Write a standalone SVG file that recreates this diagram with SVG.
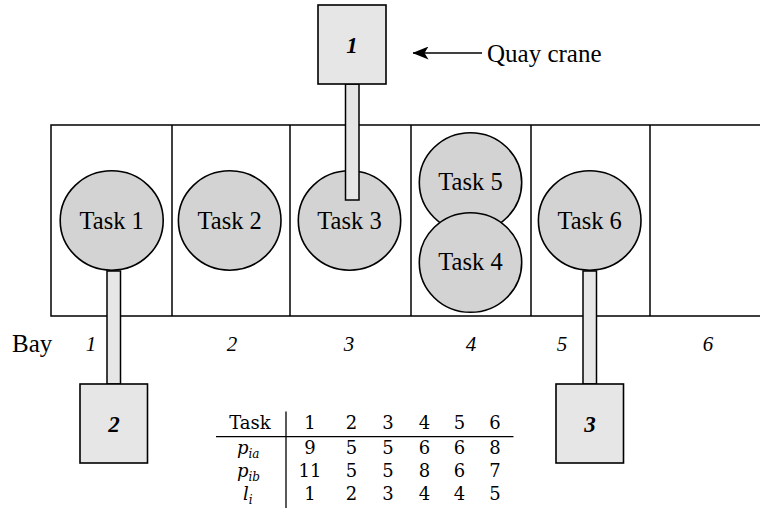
<svg xmlns="http://www.w3.org/2000/svg" width="760" height="508" viewBox="0 0 760 508">
  <defs>
    <style>
      .bay-line { stroke: #000; stroke-width: 1.5; fill: none; }
      .task { fill: #d3d3d3; stroke: #000; stroke-width: 1.6; }
      .serif { font-family: 'Liberation Serif', serif; }
      .task-label { font-family: 'Liberation Serif', serif; font-size: 24.5px; fill: #000; text-anchor: middle; }
      .crane { fill: #e6e6e6; stroke: #000; stroke-width: 1.6; }
      .crane-label { font-family: 'Liberation Serif', serif; font-size: 23px; font-style: italic; font-weight: bold; fill: #000; text-anchor: middle; }
      .arm { fill: #e6e6e6; stroke: #000; stroke-width: 1.5; }
      .plain { font-family: 'Liberation Serif', serif; font-size: 25px; fill: #000; }
      .bay-no { font-family: 'Liberation Serif', serif; font-size: 21px; font-style: italic; fill: #000; text-anchor: middle; }
      .tab { font-family: 'DejaVu Serif', serif; font-size: 18px; fill: #000; text-anchor: middle; }
      .tab-i { font-family: 'DejaVu Serif', serif; font-size: 18px; font-style: italic; fill: #000; }
      .sub { font-size: 12px; }
      .rule { stroke: #000; stroke-width: 1.3; }
    </style>
    <marker id="head" viewBox="0 0 16 13" markerWidth="16" markerHeight="13" refX="15.5" refY="6.5" orient="auto" markerUnits="userSpaceOnUse">
      <path d="M16,6.5 L0,0 L4,6.5 L0,13 Z" fill="#000"/>
    </marker>
  </defs>

  <!-- ship hull divided into bays -->
  <g id="ship">
    <path class="bay-line" d="M760,125 H51 V316 H760"/>
    <line class="bay-line" x1="172" y1="125" x2="172" y2="316"/>
    <line class="bay-line" x1="290" y1="125" x2="290" y2="316"/>
    <line class="bay-line" x1="411" y1="125" x2="411" y2="316"/>
    <line class="bay-line" x1="531" y1="125" x2="531" y2="316" stroke-width="1.2"/>
    <line class="bay-line" x1="650" y1="125" x2="650" y2="316"/>
  </g>

  <!-- tasks -->
  <g id="task1">
    <ellipse class="task" cx="111.7" cy="220.5" rx="51.5" ry="49.7"/>
    <text class="task-label" x="111.7" y="228.5">Task 1</text>
  </g>
  <g id="task2">
    <ellipse class="task" cx="229.7" cy="220.5" rx="51.3" ry="49.7"/>
    <text class="task-label" x="229.7" y="228.5">Task 2</text>
  </g>
  <g id="task3">
    <ellipse class="task" cx="349.5" cy="220.5" rx="51.2" ry="49.7"/>
    <text class="task-label" x="349.5" y="228.5">Task 3</text>
  </g>
  <g id="task5">
    <ellipse class="task" cx="470.5" cy="182.5" rx="51.2" ry="49.8"/>
    <text class="task-label" x="470.5" y="190">Task 5</text>
  </g>
  <g id="task4">
    <ellipse class="task" cx="470.5" cy="262.5" rx="51.2" ry="49.8"/>
    <text class="task-label" x="470.5" y="269.5">Task 4</text>
  </g>
  <g id="task6">
    <ellipse class="task" cx="589.7" cy="220.5" rx="51.3" ry="49.7"/>
    <text class="task-label" x="589.7" y="228.5">Task 6</text>
  </g>

  <!-- crane arms and the pointer arrow -->
  <g id="connectors">
    <rect class="arm" x="345.5" y="84" width="13.5" height="116"/>
    <rect class="arm" x="107" y="271" width="13.5" height="113"/>
    <rect class="arm" x="583" y="271" width="13.5" height="113"/>
    <line x1="482" y1="53" x2="413" y2="53" stroke="#000" stroke-width="1.6" marker-end="url(#head)"/>
  </g>

  <!-- quay cranes -->
  <g id="crane1">
    <rect class="crane" x="318" y="5" width="68" height="79"/>
    <text class="crane-label" x="352" y="52.5">1</text>
  </g>
  <g id="crane2">
    <rect class="crane" x="80" y="384" width="67.5" height="79"/>
    <text class="crane-label" x="114" y="431.5">2</text>
  </g>
  <g id="crane3">
    <rect class="crane" x="556" y="384" width="67.5" height="79"/>
    <text class="crane-label" x="590" y="431.5">3</text>
  </g>

  <text class="plain" x="487" y="62">Quay crane</text>

  <!-- bay numbering -->
  <g id="bays">
    <text class="plain" x="12" y="352">Bay</text>
    <text class="bay-no" x="91" y="351">1</text>
    <text class="bay-no" x="232" y="351">2</text>
    <text class="bay-no" x="349" y="351">3</text>
    <text class="bay-no" x="471" y="351">4</text>
    <text class="bay-no" x="562" y="351">5</text>
    <text class="bay-no" x="708" y="351">6</text>
  </g>

  <!-- task data table -->
  <g id="table">
    <line class="rule" x1="216" y1="436.7" x2="513.5" y2="436.7"/>
    <line class="rule" x1="286" y1="411.5" x2="286" y2="508"/>

    <text class="tab" x="250" y="429">Task</text>
    <text class="tab" x="310" y="429">1</text>
    <text class="tab" x="351.5" y="429">2</text>
    <text class="tab" x="388" y="429">3</text>
    <text class="tab" x="424.5" y="429">4</text>
    <text class="tab" x="459.5" y="429">5</text>
    <text class="tab" x="495" y="429">6</text>

    <text class="tab-i" x="237" y="453.5">p<tspan class="sub" dy="4">ia</tspan></text>
    <text class="tab" x="310" y="453.5">9</text>
    <text class="tab" x="351.5" y="453.5">5</text>
    <text class="tab" x="388" y="453.5">5</text>
    <text class="tab" x="424.5" y="453.5">6</text>
    <text class="tab" x="459.5" y="453.5">6</text>
    <text class="tab" x="495" y="453.5">8</text>

    <text class="tab-i" x="237" y="477">p<tspan class="sub" dy="4">ib</tspan></text>
    <text class="tab" x="310" y="477">11</text>
    <text class="tab" x="351.5" y="477">5</text>
    <text class="tab" x="388" y="477">5</text>
    <text class="tab" x="424.5" y="477">8</text>
    <text class="tab" x="459.5" y="477">6</text>
    <text class="tab" x="495" y="477">7</text>

    <text class="tab-i" x="243" y="500">l<tspan class="sub" dy="4">i</tspan></text>
    <text class="tab" x="310" y="500">1</text>
    <text class="tab" x="351.5" y="500">2</text>
    <text class="tab" x="388" y="500">3</text>
    <text class="tab" x="424.5" y="500">4</text>
    <text class="tab" x="459.5" y="500">4</text>
    <text class="tab" x="495" y="500">5</text>
  </g>
</svg>
